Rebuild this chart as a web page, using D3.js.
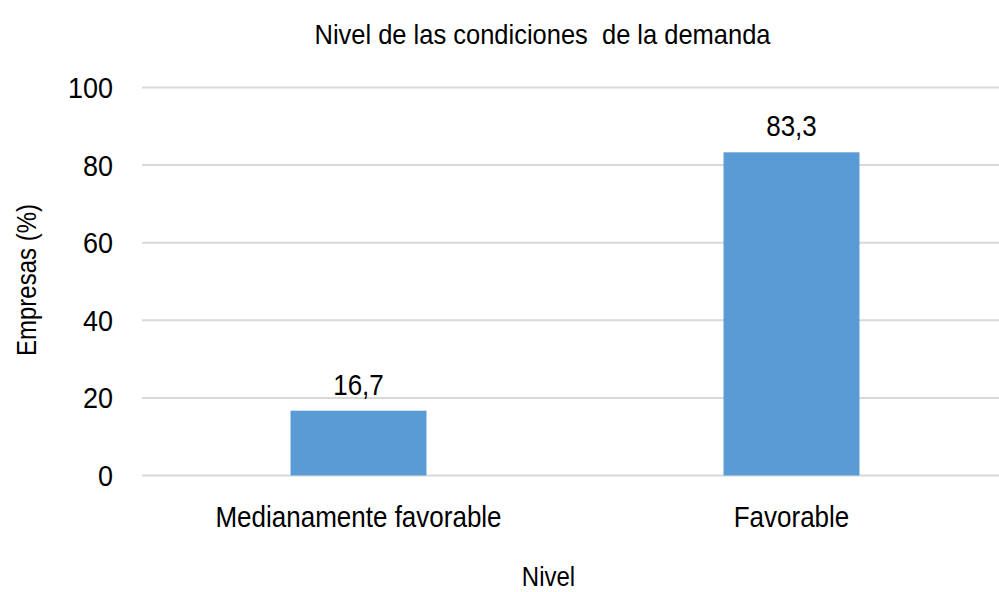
<!DOCTYPE html>
<html><head><meta charset="utf-8">
<script src="https://cdn.jsdelivr.net/npm/d3@7"></script>
<style>
html,body{margin:0;padding:0;background:#fff;}
svg{display:block;font-family:"Liberation Sans",Arial,sans-serif;}
</style></head>
<body><svg id="c" width="999" height="592"></svg>
<script>
const categories = ["Medianamente favorable", "Favorable"];
const values = [16.7, 83.3];
const valueLabels = ["16,7", "83,3"];
const yTicks = [0, 20, 40, 60, 80, 100];
const titleText = "Nivel de las condiciones\u00a0 de la demanda";
const xTitle = "Nivel";
const yTitle = "Empresas (%)";

const svg = d3.select("#c");
const x = d3.scaleBand().domain(categories).range([142, 1008]).paddingInner(0.686).paddingOuter(0.343);
const y = d3.scaleLinear().domain([0, 100]).range([475.5, 87.5]);

function put(sel, tx, ty, sy, rot) {
  sel.attr("x", 0).attr("y", 0)
    .attr("transform", `translate(${tx},${ty})` + (rot ? ` rotate(${rot})` : "") + ` scale(1,${sy})`);
}

svg.append("g").selectAll("line").data(yTicks).join("line")
  .attr("x1", 142).attr("x2", 1008)
  .attr("y1", d => y(d)).attr("y2", d => y(d))
  .attr("stroke", "#d9d9d9").attr("stroke-width", 2);

const yAxis = svg.append("g").attr("transform", "translate(113,0)")
  .call(d3.axisLeft(y).tickValues(yTicks).tickSize(0).tickPadding(0));
yAxis.select(".domain").remove();
yAxis.selectAll("text").attr("font-size", 27).attr("fill", "#000")
  .attr("font-family", "'Liberation Sans',Arial,sans-serif")
  .attr("x", 0).attr("dy", null).attr("y", 0)
  .attr("transform", "translate(0,10) scale(1,1.06)");

svg.append("g").selectAll("rect").data(values).join("rect")
  .attr("x", (d, i) => x(categories[i])).attr("width", x.bandwidth())
  .attr("y", d => y(d)).attr("height", d => y(0) - y(d))
  .attr("fill", "#5b9bd5");

svg.append("g").selectAll("text").data(values).join("text")
  .each(function(d, i) {
    put(d3.select(this), x(categories[i]) + x.bandwidth() / 2, y(d) - 16, 1.1);
  })
  .attr("text-anchor", "middle").attr("font-size", 26).attr("fill", "#000")
  .text((d, i) => valueLabels[i]);

const xAxis = svg.append("g").attr("transform", "translate(0,475.5)")
  .call(d3.axisBottom(x).tickSize(0).tickPadding(0));
xAxis.select(".domain").remove();
xAxis.selectAll("text").attr("font-size", 26).attr("fill", "#000")
  .attr("font-family", "'Liberation Sans',Arial,sans-serif")
  .attr("dy", null).attr("y", 0).attr("transform", "translate(0,51.5) scale(1,1.1)");

const t = svg.append("text").attr("text-anchor", "middle")
  .attr("font-size", 25.5).attr("fill", "#000").style("white-space", "pre").text(titleText);
put(t, 542.5, 43.5, 1.08);
const xt = svg.append("text").attr("text-anchor", "middle")
  .attr("font-size", 24).attr("fill", "#000").text(xTitle);
put(xt, 548.5, 586, 1.12);
const yt = svg.append("text").attr("text-anchor", "middle")
  .attr("font-size", 24).attr("fill", "#000").text(yTitle);
put(yt, 36, 280, 1.15, -90);
</script></body></html>
